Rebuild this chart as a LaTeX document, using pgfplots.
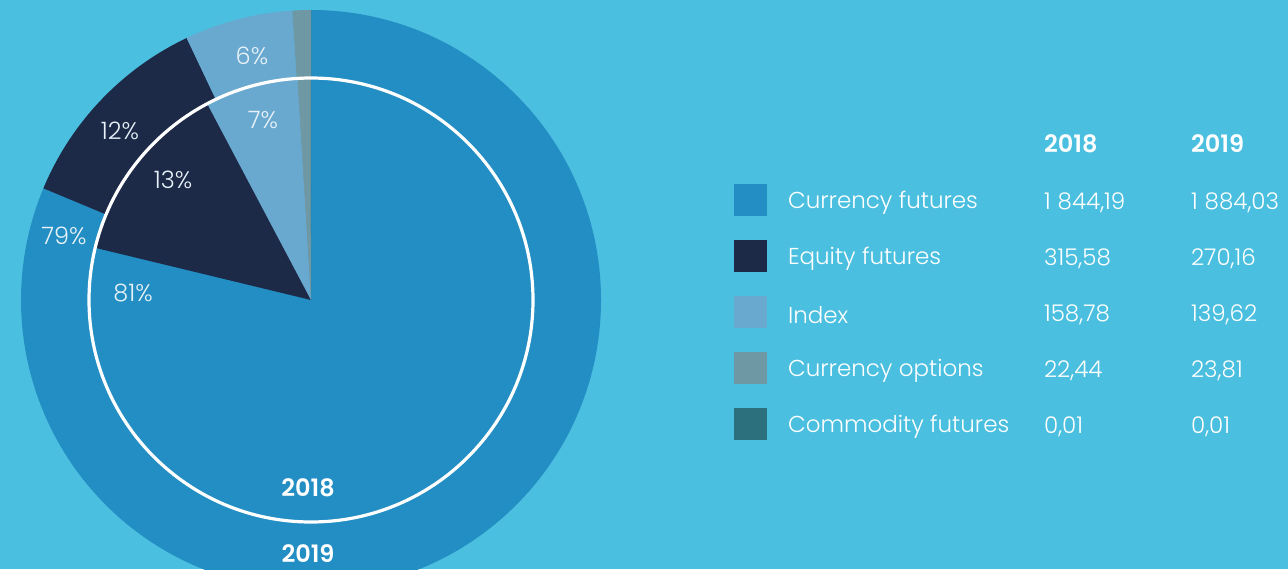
\documentclass[border=0pt]{standalone}
\usepackage{fontspec}
\setmainfont{Poppins}[UprightFont=* Light, BoldFont=* SemiBold]
\usepackage{pgfplots}
\usepackage{pgfplotstable}
\pgfplotsset{compat=1.18}

\definecolor{bg}{HTML}{4BBFDF}
\definecolor{c0}{HTML}{228EC4}
\definecolor{c1}{HTML}{1C2947}
\definecolor{c2}{HTML}{69A8CF}
\definecolor{c3}{HTML}{6E98A4}
\definecolor{c4}{HTML}{2C6F7D}
\definecolor{lbl}{HTML}{E8F2F8}

% turnover by instrument
\pgfplotstableread{
key y2018 y2019
0 1844.19 1884.03
1 315.58 270.16
2 158.78 139.62
3 22.44 23.81
4 0.01 0.01
}\shares

% start/end angle of each slice, clockwise from 12 o'clock
\newcommand\ringangles[2]{%
  \gdef\tot{0}%
  \pgfplotstableforeachcolumnelement{#1}\of\shares\as\v{%
    \pgfmathsetmacro\tmp{\tot+\v}\xdef\tot{\tmp}}%
  \gdef\cum{0}%
  \pgfplotstableforeachcolumnelement{#1}\of\shares\as\v{%
    \pgfmathsetmacro\angS{90-\cum/\tot*360}%
    \pgfmathsetmacro\tmp{\cum+\v}\xdef\cum{\tmp}%
    \pgfmathsetmacro\angE{90-\cum/\tot*360}%
    \expandafter\xdef\csname #2s\pgfplotstablerow\endcsname{\angS}%
    \expandafter\xdef\csname #2e\pgfplotstablerow\endcsname{\angE}}%
}
\ringangles{y2019}{out}
\ringangles{y2018}{in}

\newcommand\tb{\fontsize{11.5}{13}\selectfont}
\newcommand\pc{\fontsize{12}{14}\selectfont}
\newcommand\hd{\bfseries\fontsize{12}{14}\selectfont}

\begin{document}
\begin{tikzpicture}[every node/.style={font=\tb}]
\begin{axis}[
    width=644pt, height=284.5pt, scale only axis,
    xmin=0, xmax=1288, ymin=0, ymax=569,
    hide axis,
]
\coordinate (BL) at (axis cs:0,0);
\coordinate (TR) at (axis cs:1288,569);
\fill[bg] (axis cs:0,0) rectangle (axis cs:1288,569);

% outer ring = 2019
\pgfplotsinvokeforeach{0,...,4}{
  \edef\cmd{\noexpand\fill[c#1] (axis cs:311,269) -- ++(\csname outs#1\endcsname:145pt)
    arc[start angle=\csname outs#1\endcsname, end angle=\csname oute#1\endcsname, radius=145pt] -- cycle;}
  \cmd
}
% inner pie = 2018
\pgfplotsinvokeforeach{0,...,4}{
  \edef\cmd{\noexpand\fill[c#1] (axis cs:311,269) -- ++(\csname ins#1\endcsname:111pt)
    arc[start angle=\csname ins#1\endcsname, end angle=\csname ine#1\endcsname, radius=111pt] -- cycle;}
  \cmd
}
\draw[white, line width=1.6pt] (axis cs:311,269) circle[radius=111pt];

\node[lbl, font=\pc] at (axis cs:252,513) {6\%};
\node[lbl, font=\pc] at (axis cs:263,449) {7\%};
\node[lbl, font=\pc] at (axis cs:120,438) {12\%};
\node[lbl, font=\pc] at (axis cs:173,389) {13\%};
\node[lbl, font=\pc] at (axis cs:64,333) {79\%};
\node[lbl, font=\pc] at (axis cs:133,276) {81\%};
\node[white, font=\hd] at (axis cs:308,81) {2018};
\node[white, font=\hd] at (axis cs:308,15) {2019};

% legend table
\node[white, anchor=west, font=\hd] at (axis cs:1037,425) {2018};
\node[white, anchor=west, font=\hd] at (axis cs:1184,425) {2019};

\fill[c0] (axis cs:734,385) rectangle (axis cs:767,353);
\fill[c1] (axis cs:734,329) rectangle (axis cs:767,297);
\fill[c2] (axis cs:734,273) rectangle (axis cs:767,241);
\fill[c3] (axis cs:734,217) rectangle (axis cs:767,185);
\fill[c4] (axis cs:734,161) rectangle (axis cs:767,129);

\node[white, anchor=west] at (axis cs:781,366) {Currency futures};
\node[white, anchor=west] at (axis cs:781,310) {Equity futures};
\node[white, anchor=west] at (axis cs:781,254) {Index};
\node[white, anchor=west] at (axis cs:781,198) {Currency options};
\node[white, anchor=west] at (axis cs:781,142) {Commodity futures};

\node[white, anchor=west] at (axis cs:1037,366) {1\hspace{0.3em}844,19};
\node[white, anchor=west] at (axis cs:1037,310) {315,58};
\node[white, anchor=west] at (axis cs:1037,254) {158,78};
\node[white, anchor=west] at (axis cs:1037,198) {22,44};
\node[white, anchor=west] at (axis cs:1037,142) {0,01};

\node[white, anchor=west] at (axis cs:1184,366) {1\hspace{0.3em}884,03};
\node[white, anchor=west] at (axis cs:1184,310) {270,16};
\node[white, anchor=west] at (axis cs:1184,254) {139,62};
\node[white, anchor=west] at (axis cs:1184,198) {23,81};
\node[white, anchor=west] at (axis cs:1184,142) {0,01};
\end{axis}
\pgfresetboundingbox
\path[use as bounding box] (BL) rectangle (TR);
\end{tikzpicture}
\end{document}
